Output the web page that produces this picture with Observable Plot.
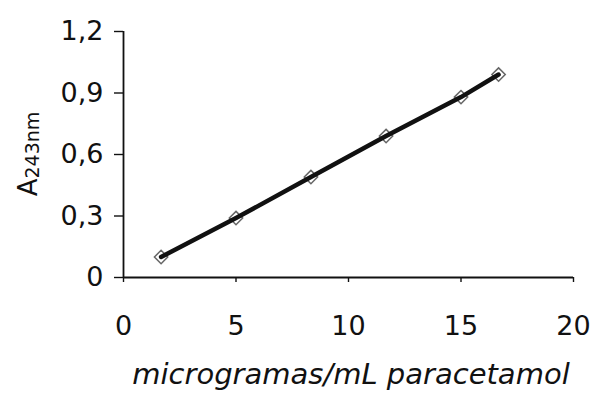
<!DOCTYPE html>
<html>
<head>
<meta charset="utf-8">
<script src="https://cdn.jsdelivr.net/npm/d3@7"></script>
<script src="https://cdn.jsdelivr.net/npm/@observablehq/plot@0.6"></script>
<style>
  html, body { margin: 0; padding: 0; background: #fff; }
  svg { display: block; }
</style>
</head>
<body>
<div id="chart"></div>
<script>
// Calibration curve for paracetamol: absorbance at 243 nm vs concentration
const concentration = [1.67, 5.0, 8.33, 11.67, 15.0, 16.67];   // µg/mL
const absorbance    = [0.10, 0.29, 0.49, 0.69, 0.88, 0.99];    // A243nm
const xTicks = [0, 5, 10, 15, 20];
const yTicks = [0, 0.3, 0.6, 0.9, 1.2];
const xLabel = "microgramas/mL paracetamol";

const data = concentration.map((c, i) => ({c, a: absorbance[i]}));
const font = "'DejaVu Sans', sans-serif";
const fmt = d => d === 0 ? "0" : d.toFixed(1).replace(".", ",");

const plot = Plot.plot({
  width: 595,
  height: 395,
  marginLeft: 123,
  marginRight: 22,
  marginTop: 31,
  marginBottom: 118,
  style: {fontFamily: font, fontSize: "27px", color: "#111", background: "#fff"},
  x: {domain: [0, 20]},
  y: {domain: [0, 1.2]},
  marks: [
    Plot.axisY(yTicks, {tickSize: 9, tickPadding: 11, tickFormat: fmt, label: null, strokeWidth: 1.4}),
    Plot.axisX(xTicks, {tickSize: 5, tickPadding: 33, label: null, strokeWidth: 1.4}),
    Plot.ruleX([0], {y1: 0, y2: 1.2, stroke: "#111", strokeWidth: 1.8}),
    Plot.ruleY([0], {x1: 0, x2: 20, stroke: "#111", strokeWidth: 1.8}),
    Plot.dot(data, {x: "c", y: "a", symbol: "diamond2", r: 6, stroke: "#666", strokeWidth: 1.5}),
    Plot.line(data, {x: "c", y: "a", stroke: "#111", strokeWidth: 4.5})
  ]
});

const svg = d3.select(plot);
// x-axis title
svg.append("text")
  .attr("x", 351).attr("y", 384)
  .attr("text-anchor", "middle")
  .attr("font-family", font)
  .attr("font-size", 29)
  .attr("font-style", "italic")
  .attr("fill", "#111")
  .text(xLabel);
// y-axis title with subscript
const yt = svg.append("text")
  .attr("transform", "translate(37,154) rotate(-90)")
  .attr("text-anchor", "middle")
  .attr("font-family", font)
  .attr("font-size", 26)
  .attr("fill", "#111");
yt.append("tspan").text("A");
yt.append("tspan").attr("font-size", 19).attr("dy", 2).text("243nm");

document.getElementById("chart").append(plot);
</script>
</body>
</html>
